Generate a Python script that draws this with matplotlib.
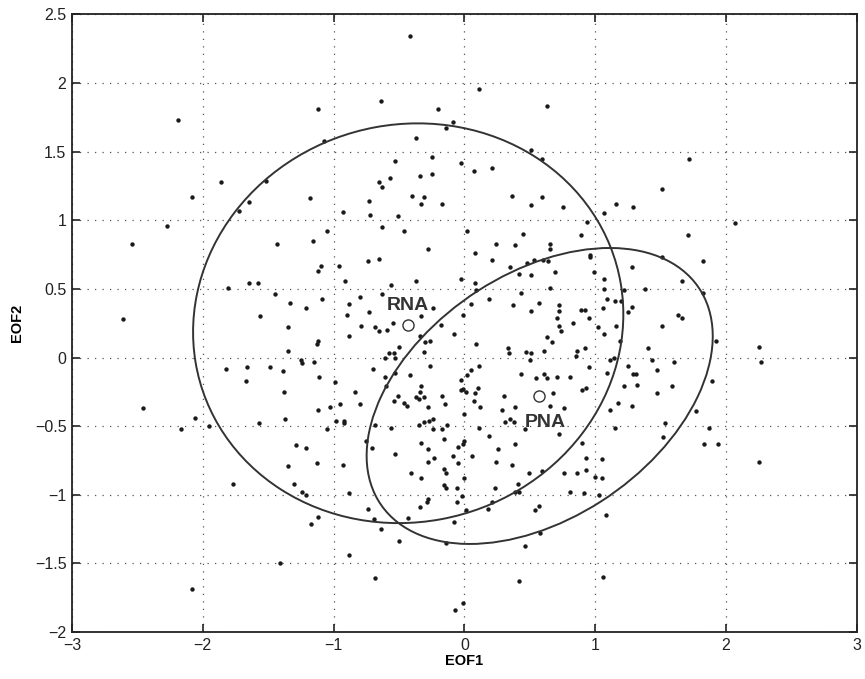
import matplotlib
matplotlib.use("Agg")
import matplotlib.pyplot as plt
from matplotlib.patches import Ellipse
from matplotlib.ticker import FuncFormatter

# daily states projected on the two leading EOFs
eof1 = [
    -2.19, -1.12, -1.07,
    -0.42, 0.11, -0.64, -0.20, 0.63, -0.09, -0.14, -0.37, 0.51, 0.59, -0.53, -0.25, -0.03, 0.07, 0.21, -0.25,
    1.72,
    -1.86, -1.52, -2.08, -1.65, -1.72, -1.18, -0.93, -2.27, -1.05, -2.54, -1.43, -1.16, -1.10, -1.12, -0.96,
    -0.91, -1.65, -1.58, -1.81, -1.45, -1.33, -1.09, -1.21, -0.88, -2.61, -1.56, -0.90, -1.35, -0.88,
    -0.57, -0.34, -0.65, -0.63, -0.73, -0.40, -0.31, -0.33, -0.17, 0.36, 0.59, 0.51, 0.75, -0.72, -0.51,
    -0.63, -0.46, 0.02, 0.45, 0.89, 0.94, 1.07, 0.24, 0.39, 0.65, 0.65, -0.28, 0.08, -0.74, -0.65, 0.21,
    0.35, 0.48, 0.53, 0.60, 0.64, 0.96, 0.96, 0.42, 0.51, 0.69, 0.99, -0.37, -0.03, -0.56, 0.08, 0.65,
    -0.80, -0.63, 0.09, 0.43, 1.07, 1.07, 0.19, 0.05, -0.73, -0.24, 0.37, 0.57, 0.72, 0.72, 0.51, 0.89,
    0.92, 1.06, -0.33, -0.01, -0.79, -0.68, -0.65, -0.59, -0.55, -0.18, 0.71, 0.95, 0.83, 0.72, 1.02,
    0.74, -0.08, 0.63, -0.34,
    1.51, 1.16, 1.29, 2.07, 1.71, 1.51, 1.82, 1.28, 1.66, 1.22, 1.38, 1.82, 1.09, 1.15, 1.20, 1.28, 1.25,
    1.63, 1.66, 1.16, 1.51, 1.07,
    -1.12, -1.13, -1.35, -1.25, -1.24, -1.15, -1.82, -1.66, -1.49, -1.39, -1.11, -1.67, -0.99, -0.84,
    -1.38, -2.46, -1.12, -1.03, -0.95, -2.06, -1.37, -0.98, -0.92, -0.92, -1.57, -2.17, -1.95, -1.05,
    -1.29, -1.21, -1.13, -0.93, -1.35, -1.77, -1.30, -1.24, -1.21, -0.88,
    0.67, -0.30, -0.26, 0.09, -0.50, -0.31, -0.58, -0.54, -0.53, -0.61, 0.33, 0.34, 0.47, 0.51, 0.50,
    0.61, 0.86, 0.92, 0.85, -0.70, -0.26, 0.05, 0.11, 0.95, -0.53, -0.42, 0.02, 0.43, 0.55, 0.61, 0.63,
    0.71, 0.81, -0.61, -0.03, -0.01, -0.03, 0.01, 0.10, -0.33, -0.60, -0.34, -0.51, -0.37, -0.35, -0.31,
    -0.17, 0.08, 0.30, 0.90, 0.93, 0.68, -0.80, -0.54, -0.46, -0.44, -0.15, 0.07, 0.12, -0.28, 0.29,
    0.39, 0.65, 0.76, 0.00, -0.24, -0.27, -0.31, 0.31, 0.35, 0.38, -0.35, -0.13, -0.68, -0.56, -0.24,
    -0.17, 0.11, 0.46, 0.72, 0.19, -0.16, -0.75, -0.33, 0.00, -0.01, 0.39, 0.90, -0.71, -0.28, -0.05,
    0.26, -0.53, -0.09, 0.06, -0.23, -0.28, 0.24, 0.93, 1.05, -0.05, 0.36, -0.16, 0.93, -0.41, -0.14,
    0.49, 0.59, 0.76, 0.86, -0.33, 1.00, 1.05, 0.00, -0.16, -0.14, -0.06, 0.23, 0.41, 0.39, 0.42, -0.02,
    -0.28, 0.81, 0.91, 1.03,
    1.19, 1.92, 2.25, 1.40, 1.11, 1.14, 1.43, 1.60, 2.27, 1.09, 1.25, 1.47, 1.29, 1.31, 1.22, 1.32, 1.59,
    1.89, 1.47, 1.17, 1.11, 1.28, 1.77, 1.53, 1.15, 1.87, 1.52, 1.83, 1.94, 2.25,
    -1.17, -1.12, -0.88, -1.41, -2.08,
    -0.74, -0.69, -0.64, -0.50, -0.43, -0.34, -0.29, -0.06, 0.01, -0.08, -0.14, 0.21, 0.18, 0.54, 0.57,
    0.46, 0.58, -0.68, 0.42, -0.01, -0.07, 1.08, 1.06,
]
eof2 = [
    1.73, 1.81, 1.58,
    2.34, 1.96, 1.87, 1.81, 1.83, 1.72, 1.67, 1.60, 1.51, 1.45, 1.43, 1.46, 1.42, 1.36, 1.38, 1.34,
    1.45,
    1.28, 1.29, 1.17, 1.13, 1.07, 1.16, 1.06, 0.96, 0.92, 0.83, 0.83, 0.85, 0.67, 0.63, 0.67,
    0.56, 0.54, 0.54, 0.51, 0.46, 0.40, 0.43, 0.36, 0.39, 0.28, 0.30, 0.31, 0.22, 0.16,
    1.31, 1.32, 1.28, 1.24, 1.14, 1.18, 1.17, 1.12, 1.12, 1.18, 1.17, 1.11, 1.10, 1.04, 1.03,
    0.95, 0.92, 0.92, 0.90, 0.89, 0.99, 1.05, 0.83, 0.82, 0.83, 0.79, 0.79, 0.76, 0.70, 0.72, 0.71,
    0.66, 0.69, 0.71, 0.71, 0.70, 0.75, 0.73, 0.61, 0.60, 0.62, 0.62, 0.56, 0.57, 0.53, 0.54, 0.51,
    0.44, 0.46, 0.49, 0.47, 0.50, 0.57, 0.43, 0.39, 0.33, 0.36, 0.38, 0.40, 0.38, 0.34, 0.34, 0.35,
    0.35, 0.36, 0.30, 0.31, 0.23, 0.22, 0.19, 0.20, 0.25, 0.24, 0.29, 0.29, 0.25, 0.23, 0.22,
    0.19, 0.17, 0.15, 0.16,
    1.23, 1.12, 1.10, 0.98, 0.89, 0.73, 0.70, 0.66, 0.56, 0.49, 0.50, 0.47, 0.43, 0.41, 0.41, 0.37, 0.33,
    0.31, 0.29, 0.23, 0.23, 0.17,
    0.12, 0.10, 0.05, -0.02, -0.04, -0.03, -0.08, -0.07, -0.07, -0.10, -0.14, -0.17, -0.18, -0.25,
    -0.25, -0.37, -0.38, -0.36, -0.34, -0.44, -0.45, -0.46, -0.46, -0.48, -0.48, -0.52, -0.50, -0.52,
    -0.64, -0.66, -0.77, -0.78, -0.79, -0.92, -0.92, -0.98, -1.00, -0.99,
    0.11, 0.11, 0.12, 0.10, 0.08, 0.04, 0.03, 0.03, 0.00, 0.00, 0.07, 0.03, 0.04, 0.03, -0.02,
    0.05, 0.05, 0.07, 0.01, -0.08, -0.06, -0.09, -0.06, -0.07, -0.11, -0.13, -0.13, -0.12, -0.15, -0.12, -0.15,
    -0.14, -0.14, -0.14, -0.16, -0.23, -0.24, -0.25, -0.22, -0.21, -0.21, -0.25, -0.28, -0.29, -0.30, -0.29,
    -0.28, -0.26, -0.28, -0.24, -0.22, -0.26, -0.34, -0.32, -0.33, -0.35, -0.34, -0.32, -0.36, -0.36, -0.38,
    -0.36, -0.35, -0.37, -0.41, -0.45, -0.46, -0.47, -0.47, -0.45, -0.47, -0.49, -0.49, -0.49, -0.51, -0.52,
    -0.52, -0.51, -0.52, -0.56, -0.57, -0.59, -0.61, -0.62, -0.61, -0.63, -0.63, -0.62, -0.66, -0.67, -0.65,
    -0.67, -0.70, -0.72, -0.72, -0.73, -0.76, -0.76, -0.73, -0.74, -0.77, -0.78, -0.81, -0.82, -0.84, -0.84,
    -0.84, -0.83, -0.84, -0.84, -0.88, -0.87, -0.88, -0.88, -0.93, -0.95, -0.95, -0.95, -0.92, -0.98, -0.98, -1.01,
    -1.03, -0.98, -0.99, -1.00,
    0.12, 0.12, 0.08, 0.07, -0.02, 0.00, -0.02, -0.03, -0.03, -0.11, -0.06, -0.09, -0.12, -0.12, -0.21, -0.20, -0.21,
    -0.17, -0.26, -0.33, -0.38, -0.35, -0.39, -0.48, -0.51, -0.51, -0.58, -0.63, -0.63, -0.76,
    -1.21, -1.16, -1.44, -1.50, -1.69,
    -1.10, -1.18, -1.25, -1.34, -1.17, -1.09, -1.05, -1.05, -1.11, -1.20, -1.35, -1.05, -1.10, -1.11, -1.08,
    -1.37, -1.28, -1.61, -1.63, -1.79, -1.84, -1.15, -1.60,
]

# regime centroids and their contour ellipses (centre, full width, full height, tilt in deg)
regime_names = ["RNA", "PNA"]
regime_x = [-0.43, 0.57]
regime_y = [0.24, -0.28]
ellipse_centres = [(-0.43, 0.25), (0.575, -0.28)]
ellipse_widths = [3.30, 2.90]
ellipse_heights = [2.90, 1.80]
ellipse_angles = [10.0, 31.5]

xticks = [-3, -2, -1, 0, 1, 2, 3]
yticks = [-2, -1.5, -1, -0.5, 0, 0.5, 1, 1.5, 2, 2.5]

plt.rcParams['font.family'] = ['Liberation Sans', 'DejaVu Sans']

fig = plt.figure(figsize=(8.65, 6.79), dpi=100)
ax = fig.add_axes([0.0832, 0.0692, 0.9075, 0.9095])

ax.scatter(eof1, eof2, s=10, color='#1a1a1a', linewidths=0, zorder=3)

for c, w, h, a in zip(ellipse_centres, ellipse_widths, ellipse_heights, ellipse_angles):
    ax.add_patch(Ellipse(c, w, h, angle=a, fill=False, edgecolor='#333333',
                         linewidth=1.4, zorder=4))

ax.plot(regime_x, regime_y, 'o', markersize=8, markerfacecolor='white',
        markeredgecolor='#333333', markeredgewidth=1.0, linestyle='none', zorder=5)

# labels: RNA above its centroid, PNA below
ax.text(regime_x[0], regime_y[0] + 0.14, regime_names[0], ha='center', va='center',
        fontsize=14, fontweight='bold', color='#333333', zorder=6)
ax.text(regime_x[1] + 0.05, regime_y[1] - 0.19, regime_names[1], ha='center', va='center',
        fontsize=14, fontweight='bold', color='#333333', zorder=6)

ax.set_xlim(-3, 3)
ax.set_ylim(-2, 2.5)
ax.set_xticks(xticks)
ax.set_yticks(yticks)
fmt = FuncFormatter(lambda v, pos: ('%g' % v).replace('-', '\u2212'))
ax.xaxis.set_major_formatter(fmt)
ax.yaxis.set_major_formatter(fmt)

ax.grid(True, color='#555555', linestyle=(0, (1, 5)), linewidth=0.9)
ax.set_axisbelow(True)
ax.tick_params(direction='in', top=True, right=True, length=6, width=1.2,
               labelsize=11.5, colors='#222222', pad=4)
for sp in ax.spines.values():
    sp.set_linewidth(1.3)
    sp.set_color('#222222')

ax.set_xlabel('EOF1', fontsize=10.5, fontweight='bold', labelpad=1)
ax.set_ylabel('EOF2', fontsize=10.5, fontweight='bold', labelpad=8)

fig.savefig('out.png', dpi=100)
